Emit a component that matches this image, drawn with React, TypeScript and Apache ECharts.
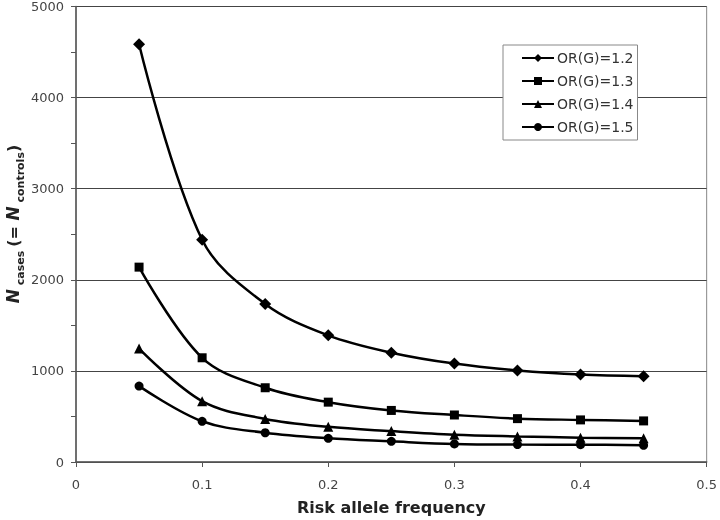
import React, { useEffect, useRef } from "react";
import * as echarts from "echarts";

const xValues = [0.05, 0.1, 0.15, 0.2, 0.25, 0.3, 0.35, 0.4, 0.45];
const seriesNames = ["OR(G)=1.2", "OR(G)=1.3", "OR(G)=1.4", "OR(G)=1.5"];
const or12 = [4585, 2440, 1735, 1390, 1200, 1080, 1005, 960, 942];
const or13 = [2139, 1144, 815, 657, 566, 516, 476, 462, 451];
const or14 = [1245, 668, 473, 386, 339, 300, 281, 267, 260];
const or15 = [833, 447, 321, 260, 227, 198, 191, 190, 184];
const symbols = ["diamond", "rect", "triangle", "circle"];
const symbolSizes = [12, 9, 10, 9];
const yTicks = [0, 1000, 2000, 3000, 4000, 5000];

const FONT = "'DejaVu Sans', sans-serif";

export default function App() {
  const ref = useRef<HTMLDivElement>(null);
  useEffect(() => {
    document.body.style.margin = "0";
    document.body.style.overflow = "hidden";
    if (!ref.current) return;
    const chart = echarts.init(ref.current, null, { renderer: "svg" });
    const all = [or12, or13, or14, or15];
    chart.setOption({
      animation: false,
      textStyle: { fontFamily: FONT },
      grid: {
        left: 76,
        right: 10,
        top: 5,
        bottom: 53,
        show: true,
        borderColor: "#888",
        borderWidth: 1,
        backgroundColor: "transparent",
      },
      legend: {
        orient: "vertical",
        left: 503,
        top: 45,
        width: 140,
        itemWidth: 32,
        itemHeight: 10,
        itemGap: 9,
        padding: [6, 4, 6, 18],
        backgroundColor: "#fff",
        borderColor: "#888",
        borderWidth: 1,
        textStyle: { fontFamily: FONT, fontSize: 14, color: "#333", padding: [0, 0, 0, -2] },
        data: seriesNames,
      },
      xAxis: {
        type: "value",
        min: 0,
        max: 0.5,
        interval: 0.1,
        name: "Risk allele frequency",
        nameLocation: "middle",
        nameGap: 37,
        nameTextStyle: { fontFamily: FONT, fontSize: 16, fontWeight: "bold", color: "#222" },
        axisLine: { show: true, lineStyle: { color: "#555", width: 1.5 } },
        axisTick: { show: true, inside: false, length: 5, lineStyle: { color: "#555" } },
        axisLabel: {
          color: "#444",
          fontSize: 13,
          margin: 16,
          formatter: (v: number) => String(Math.round(v * 10) / 10),
        },
        splitLine: { show: false },
      },
      yAxis: {
        type: "value",
        min: yTicks[0],
        max: yTicks[yTicks.length - 1],
        interval: 1000,
        axisLine: { show: true, lineStyle: { color: "#555", width: 1.5 } },
        axisTick: { show: true, inside: false, length: 5, lineStyle: { color: "#555" } },
        minorTick: { show: true, splitNumber: 2, length: 5, lineStyle: { color: "#555" } },
        axisLabel: { color: "#444", fontSize: 13, margin: 12, formatter: (v: number) => String(v) },
        splitLine: { show: true, lineStyle: { color: "#444", width: 1 } },
      },
      graphic: [
        {
          type: "text",
          x: 13,
          y: 224,
          rotation: Math.PI / 2,
          style: {
            text: "{n|N}{s| cases }{p|(= }{n|N}{s| controls}{p|)}",
            fill: "#222",
            align: "center",
            verticalAlign: "middle",
            rich: {
              n: { fontFamily: FONT, fontSize: 17, fontWeight: "bold", fontStyle: "italic", fill: "#222", lineHeight: 26, verticalAlign: "middle" },
              p: { fontFamily: FONT, fontSize: 16, fontWeight: "bold", fill: "#222", lineHeight: 26, verticalAlign: "middle" },
              s: {
                fontFamily: FONT,
                fontSize: 11,
                fontWeight: "bold",
                fill: "#222",
                lineHeight: 14,
                verticalAlign: "bottom",
              },
            },
          },
        },
      ],
      series: all.map((vals, i) => ({
        name: seriesNames[i],
        type: "line",
        smooth: 0.35,
        data: xValues.map((x, j) => [x, vals[j]]),
        symbol: symbols[i],
        symbolSize: symbolSizes[i],
        showSymbol: true,
        lineStyle: { color: "#000", width: 2.5 },
        itemStyle: { color: "#000", borderWidth: 0 },
        z: 3,
      })),
    });
    return () => chart.dispose();
  }, []);
  return (
    <div
      ref={ref}
      style={{ position: "fixed", left: 0, top: 0, width: 720, height: 520, overflow: "hidden" }}
    />
  );
}
